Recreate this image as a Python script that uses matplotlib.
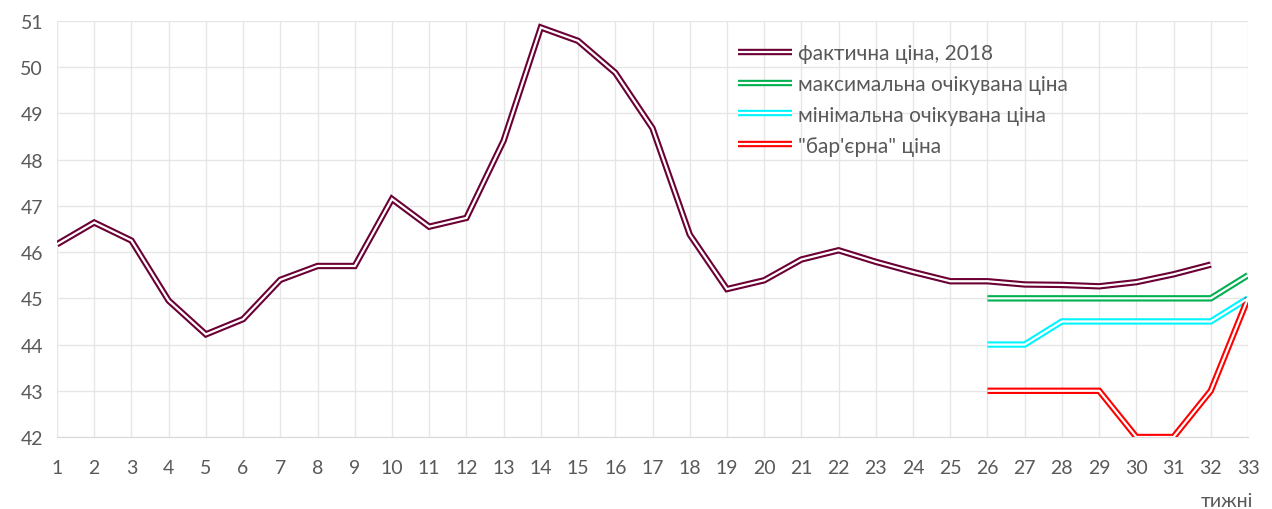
import numpy as np
import matplotlib.pyplot as plt

plt.rcParams['font.family'] = ['Lato', 'DejaVu Sans']

weeks = np.arange(1, 34)

# фактична ціна, 2018 (тижні 1-32)
actual_weeks = list(range(1, 33))
actual = [46.17, 46.64, 46.25, 44.95, 44.22, 44.55, 45.4, 45.7, 45.7, 47.15,
          46.55, 46.74, 48.41, 50.86, 50.57, 49.88, 48.68, 46.38, 45.2, 45.39,
          45.84, 46.04, 45.79, 45.57, 45.37, 45.37, 45.3, 45.29, 45.26, 45.35,
          45.52, 45.73]

# прогнози (тижні 26-33)
fc_weeks = list(range(26, 34))
max_exp = [45.0, 45.0, 45.0, 45.0, 45.0, 45.0, 45.0, 45.5]
min_exp = [44.0, 44.0, 44.5, 44.5, 44.5, 44.5, 44.5, 45.0]
barrier = [43.0, 43.0, 43.0, 43.0, 42.0, 42.0, 43.0, 45.0]

labels = ['фактична ціна, 2018', 'максимальна очікувана ціна',
          'мінімальна очікувана ціна', '"бар\'єрна" ціна']
colors = ['#6B0035', '#00B050', '#00F5FF', '#FF0000']

fig = plt.figure(figsize=(12.72, 5.10), dpi=100)
ax = fig.add_axes([57 / 1272, 72 / 510, 1191 / 1272, 416 / 510])

series = [(actual_weeks, actual), (fc_weeks, max_exp),
          (fc_weeks, min_exp), (fc_weeks, barrier)]

handles = []
for (xs, ys), c in zip(series, colors):
    outer, = ax.plot(xs, ys, color=c, lw=4.6, solid_joinstyle='miter',
                     solid_capstyle='butt', zorder=3)
    inner, = ax.plot(xs, ys, color='white', lw=1.6, solid_joinstyle='miter',
                     solid_capstyle='butt', zorder=4)
    handles.append((outer, inner))

ax.set_xlim(1, 33)
ax.set_ylim(42, 51)
ax.set_xticks(weeks)
ax.set_yticks(np.arange(42, 52))
ax.grid(True, color='#e6e6e6', lw=1.0, zorder=0)
ax.set_axisbelow(True)
for s in ['top', 'right', 'left']:
    ax.spines[s].set_visible(False)
ax.spines['bottom'].set_color('#d9d9d9')
ax.tick_params(length=0, labelsize=14, colors='#595959')
ax.tick_params(axis='x', pad=16)
ax.tick_params(axis='y', pad=10)

fig.text(1227 / 1272, 1 - 502 / 510, 'тижні', ha='center', va='center',
         fontsize=14, color='#595959')

ax.legend(handles, labels, loc='upper left', bbox_to_anchor=(0.5557, 0.992),
          frameon=False, fontsize=15, labelcolor='#595959', handlelength=2.6,
          handletextpad=0.3, labelspacing=0.52)

fig.savefig('out.png', dpi=100)
